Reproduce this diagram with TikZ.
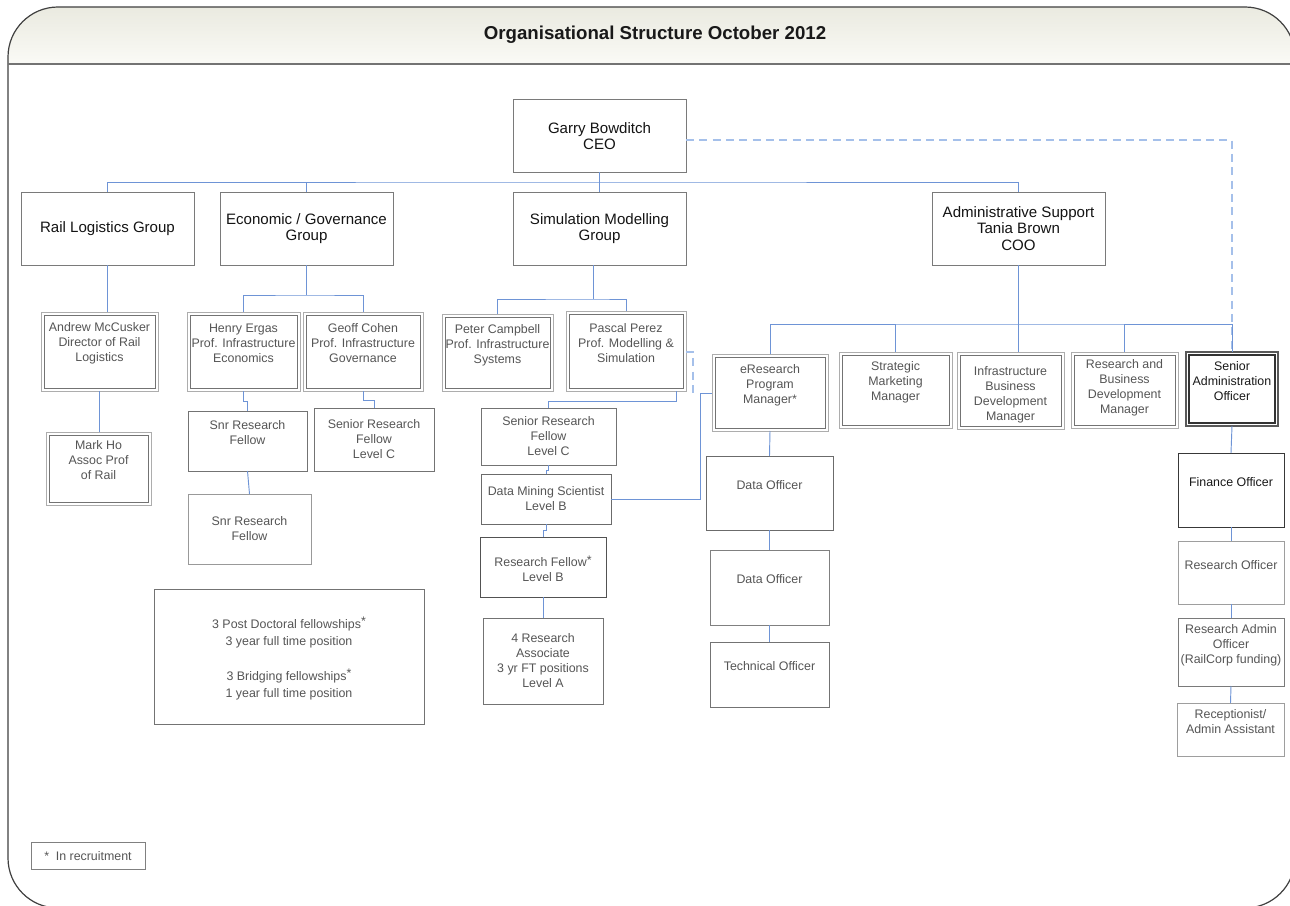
\documentclass[tikz,border=0pt]{standalone}
\usepackage{fontspec}
\setmainfont{Liberation Sans}
\definecolor{lnblue}{RGB}{110,148,214}
\definecolor{lnlight}{RGB}{165,192,234}
\definecolor{tgrey}{RGB}{85,85,85}
\definecolor{bgrey}{RGB}{120,120,120}
\definecolor{hdrtop}{RGB}{234,234,224}
\definecolor{hdrbot}{RGB}{250,250,246}
\tikzset{
  conn/.style={draw=lnblue, line width=0.7pt},
  dconn/.style={draw=lnlight, line width=0.9pt, dash pattern=on 6pt off 4pt},
  grp/.style={draw=black!52, line width=0.75pt, inner sep=0pt, outer sep=0pt},
  box/.style={draw=#1, line width=0.7pt, inner sep=0pt, outer sep=0pt},
  box/.default=bgrey,
  dbl/.style={draw=black!32, line width=0.7pt, inner sep=0pt, outer sep=0pt},
  dbld/.style={draw=black!65, line width=0.95pt, inner sep=0pt, outer sep=0pt},
  bt/.style={font=\fontsize{11.3}{12.4}\selectfont, text=black!92, align=center, inner sep=0pt},
  gt/.style={font=\fontsize{9.3}{11.25}\selectfont, text=tgrey, align=center, inner sep=0pt},
  gtb/.style={font=\fontsize{9.3}{12.75}\selectfont, text=tgrey, align=center, inner sep=0pt},
  kt/.style={font=\fontsize{9.3}{11.25}\selectfont, text=black!90, align=center, inner sep=0pt},
}
\newcommand\bx[9]{%
  \pgfmathsetmacro\bxw{(#4-#2)*0.75}%
  \pgfmathsetmacro\bxh{(#5-#3)*0.75}%
  \node[#6, minimum width=\bxw pt, minimum height=\bxh pt] (#1) at ({(#2+#4)/2},{(#3+#5)/2}) {};%
  \node[#7] (#1-t) at ({(#2+#4)/2},#8) {#9};}
\newcommand\innerbox[2]{\draw[#2] ([shift={(2.25pt,2.25pt)}]#1.south west) rectangle ([shift={(-2.25pt,-2.25pt)}]#1.north east);}
\newcommand\st{\raisebox{1.6pt}{*}}
\begin{document}
\begin{tikzpicture}[x=0.75pt,y=-0.75pt]
\useasboundingbox (0,0) rectangle (1290,906);
\fill[white] (0,0) rectangle (1290,906);
% header band
\shade[top color=hdrtop, bottom color=hdrbot, rounded corners=37.5pt] (8,64) -- (8,7) -- (1295,7) -- (1295,64);
\draw[black!75, line width=0.9pt, rounded corners=37.5pt] (8,7) rectangle (1295,908);
\draw[black!55, line width=1.1pt] (8,64) -- (1295,64);
\node[font=\bfseries\fontsize{14}{16}\selectfont, text=black!90] (title) at (655,35) {Organisational Structure October 2012};

% top level
\bx{ceo}{513}{100}{686}{172}{grp}{bt}{136}{Garry Bowditch\\CEO}
\bx{rail}{21}{192}{194}{265}{grp}{bt}{228.5}{Rail Logistics Group}
\bx{econ}{220}{192}{393}{265}{grp}{bt}{228.5}{Economic / Governance\\Group}
\bx{sim}{513}{192}{686}{265}{grp}{bt}{228.5}{Simulation Modelling\\Group}
\bx{coo}{932}{192}{1105}{265}{grp}{bt}{228.5}{Administrative Support\\Tania Brown\\COO}

% double boxes
\bx{andrew}{41}{312}{158}{391}{dbl}{gt}{343}{Andrew McCusker\\Director of Rail\\Logistics}
\innerbox{andrew}{black!55, line width=0.7pt}
\bx{mark}{46}{432}{151}{505}{dbl}{gt}{460}{Mark Ho\\Assoc Prof\\of Rail}
\innerbox{mark}{black!55, line width=0.7pt}
\bx{henry}{187}{312}{300}{391}{dbl}{gt}{343}{Henry Ergas\\Prof. Infrastructure\\Economics}
\innerbox{henry}{black!55, line width=0.7pt}
\bx{geoff}{303}{312}{423}{391}{dbl}{gt}{343}{Geoff Cohen\\Prof. Infrastructure\\Governance}
\innerbox{geoff}{black!55, line width=0.7pt}
\bx{peter}{442}{314}{553}{391}{dbl}{gt}{345}{Peter Campbell\\Prof. Infrastructure\\Systems}
\innerbox{peter}{black!55, line width=0.7pt}
\bx{pascal}{566}{311}{686}{391}{dbl}{gt}{343}{Pascal Perez\\Prof. Modelling \&\\Simulation}
\innerbox{pascal}{black!55, line width=0.7pt}
\bx{eres}{712}{354}{828}{431}{dbl}{gt}{385}{eResearch\\Program\\Manager*}
\innerbox{eres}{black!55, line width=0.7pt}
\bx{strat}{839}{352}{952}{428}{dbl}{gt}{382}{Strategic\\Marketing\\Manager}
\innerbox{strat}{black!55, line width=0.7pt}
\bx{infra}{957}{352}{1064}{429}{dbl}{gt}{395}{Infrastructure\\Business\\Development\\Manager}
\innerbox{infra}{black!55, line width=0.7pt}
\bx{rbd}{1071}{352}{1178}{428}{dbl}{gt}{387.5}{Research and\\Business\\Development\\Manager}
\innerbox{rbd}{black!55, line width=0.7pt}
\bx{sao}{1186}{352}{1278}{426}{dbld}{kt}{381}{Senior\\Administration\\Officer}
\innerbox{sao}{black!80, line width=0.95pt}

% plain boxes
\bx{srf1}{188}{411}{307}{471}{box=black!55}{gt}{432.5}{Snr Research\\Fellow}
\bx{srf2}{188}{494}{311}{564}{box=black!40}{gt}{528.5}{Snr Research\\Fellow}
\bx{srfc}{314}{408}{434}{471}{box=black!55}{gt}{439}{Senior Research\\Fellow\\Level C}
\bx{post}{154}{589}{424}{724}{box=black!55}{gtb}{658.5}{3 Post Doctoral fellowships\st\\3 year full time position\\[13.5pt]3 Bridging fellowships\st\\1 year full time position}
\bx{legend}{31}{842}{145}{869}{box=black!50}{gt}{856}{*\hspace{5pt}In recruitment}
\bx{ssrf}{481}{408}{616}{465}{box=black!55}{gt}{436}{Senior Research\\Fellow\\Level C}
\bx{dms}{481}{474}{611}{524}{box=black!58}{gt}{498.5}{Data Mining Scientist\\Level B}
\bx{rf}{480}{537}{606}{597}{box=black!68}{gt}{569}{Research Fellow\st\\Level B}
\bx{ra}{483}{618}{603}{704}{box=black!55}{gt}{660.5}{4 Research\\Associate\\3 yr FT positions\\Level A}
\bx{do1}{706}{456}{833}{530}{box=black!58}{gt}{485}{Data Officer}
\bx{do2}{710}{550}{829}{625}{box=black!50}{gt}{579}{Data Officer}
\bx{tech}{710}{642}{829}{707}{box=black!55}{gt}{666}{Technical Officer}
\bx{fin}{1178}{453}{1284}{527}{box=black!78}{kt}{482}{Finance Officer}
\bx{ro}{1178}{541}{1284}{604}{box=black!38}{gt}{565}{Research Officer}
\bx{rao}{1178}{618}{1284}{686}{box=black!52}{gt}{645}{Research Admin\\Officer\\(RailCorp funding)}
\bx{rec}{1177}{703}{1284}{756}{box=black!38}{gt}{721.5}{Receptionist/\\Admin Assistant}

% connectors
\coordinate (bus) at (599,182);
\draw[conn] (ceo.south) -- (sim.north);
\draw[conn] (rail.north) |- (bus) -| (coo.north);
\draw[conn] (econ.north) -- (econ.north |- bus);
\draw[dconn] ([yshift=-3pt]ceo.east) -| (sao.north);

\draw[conn] (rail.south) -- (rail.south |- andrew.north);
\draw[conn] (andrew.south) -- (andrew.south |- mark.north);

\coordinate (ebus) at (306.5,295);
\draw[conn] (econ.south) -- (ebus);
\draw[conn] (henry.north) |- (ebus) -| (geoff.north);
\draw[conn] (henry.south) -- ++(0,10) -| (srf1.north);
\draw[conn] (srf1.south) -- (srf2.north);
\draw[conn] (geoff.south) -- ++(0,9) -| (srfc.north);

\coordinate (sbus) at (593,299);
\draw[conn] (sim.south -| sbus) -- (sbus);
\draw[conn] (peter.north) |- (sbus) -| (pascal.north);
\coordinate (pj) at (676,401);
\draw[conn] (pascal.south -| pj) -- (pj) -| (ssrf.north);
\draw[conn] (ssrf.south) -- ++(0,5) -| (dms.north);
\draw[conn] (dms.south) -- ++(0,6) -| (rf.north);
\draw[conn] (rf.south) -- (ra.north);
\coordinate (ej) at (700,393);
\draw[conn] (dms.east) -| (ej) -- (ej -| eres.west);
\coordinate (pd) at (693,352);
\draw[dconn] (pascal.east |- pd) -- (pd) -- (pd |- ej);

\coordinate (abus) at (1018.5,324);
\draw[conn] (coo.south) -- (abus);
\draw[conn] (eres.north) |- (abus) -| (sao.north);
\draw[conn] (strat.north) -- (strat.north |- abus);
\draw[conn] (abus) -- (abus |- infra.north);
\draw[conn] (rbd.north) -- (rbd.north |- abus);
\draw[conn] (eres.south) -- (do1.north);
\draw[conn] (do1.south) -- (do2.north);
\draw[conn] (do2.south) -- (tech.north);
\draw[conn] (sao.south) -- (fin.north);
\draw[conn] (fin.south) -- (ro.north);
\draw[conn] (ro.south) -- (rao.north);
\draw[conn] (rao.south) -- (rec.north);
\end{tikzpicture}
\end{document}
